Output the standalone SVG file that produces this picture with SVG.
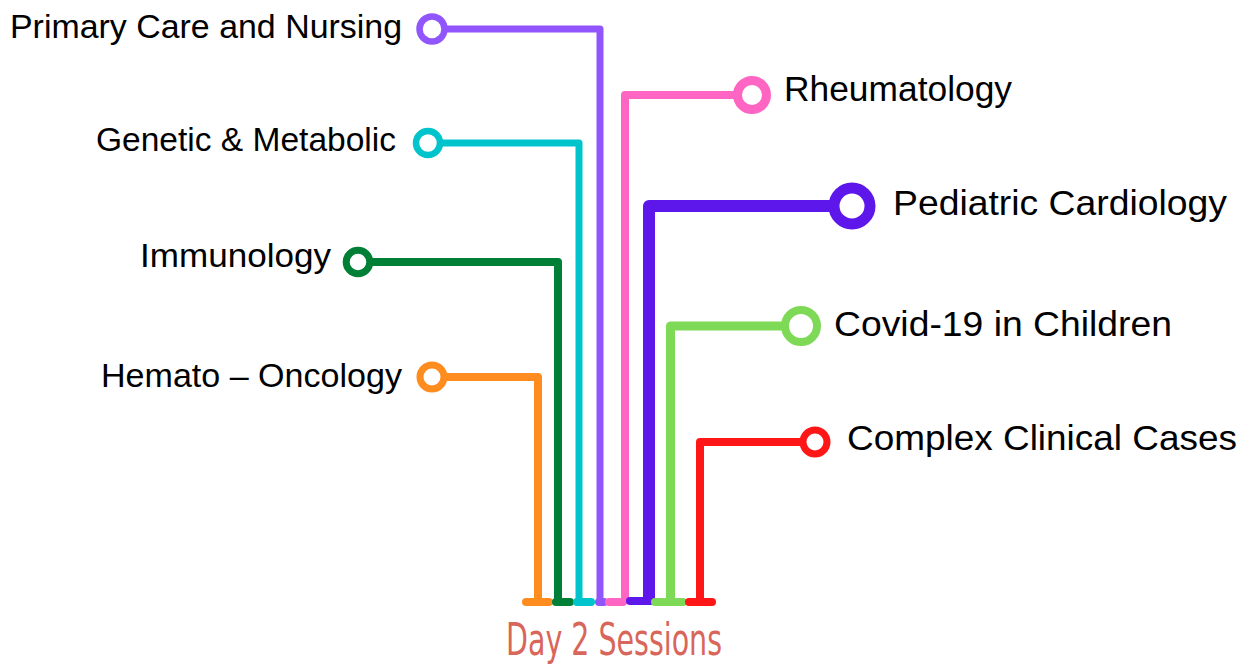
<svg xmlns="http://www.w3.org/2000/svg" width="1250" height="666" viewBox="0 0 1250 666">
<style>
.lbl{font-family:"Liberation Sans",Arial,sans-serif;fill:#000;}
.ln{fill:none;stroke-linecap:butt;stroke-linejoin:round;}
.ring{fill:#fff;}
.bar{fill:none;stroke-linecap:round;stroke-width:8;}
.title{font-family:"Liberation Sans Narrow","DejaVu Sans Condensed","DejaVu Sans",sans-serif;font-stretch:condensed;fill:#D8665A;}
</style>
<rect width="1250" height="666" fill="#fff"/>
<g id="connectors">
<path class="ln" d="M445,29 H600 V602" stroke="#9155FD" stroke-width="7"/>
<path class="ln" d="M440,143 H579 V602" stroke="#00C4CC" stroke-width="7"/>
<path class="ln" d="M370,262 H558 V602" stroke="#008037" stroke-width="8"/>
<path class="ln" d="M444,377 H538 V602" stroke="#FF8C1F" stroke-width="8"/>
<path class="ln" d="M738,95 H625 V602" stroke="#FF66C4" stroke-width="8"/>
<path class="ln" d="M834,206 H649 V602" stroke="#5E17EB" stroke-width="12"/>
<path class="ln" d="M785,326 H670.5 V602" stroke="#7ED957" stroke-width="9"/>
<path class="ln" d="M803,442 H700 V602" stroke="#FF1616" stroke-width="8"/>
<path class="bar" d="M526,602 H549" stroke="#FF8C1F"/>
<path class="bar" d="M556,602 H570" stroke="#008037"/>
<path class="bar" d="M577,602 H591" stroke="#00C4CC"/>
<path class="bar" d="M599,602 H604" stroke="#9155FD"/>
<path class="bar" d="M609,602 H623" stroke="#FF66C4"/>
<path class="bar" d="M630,601 H651" stroke="#5E17EB" stroke-width="10"/>
<path class="bar" d="M655,602 H683" stroke="#7ED957"/>
<path class="bar" d="M689,602 H712" stroke="#FF1616"/>
</g>
<g id="primary-care">
<circle class="ring" cx="432" cy="29" r="12.5" stroke="#9155FD" stroke-width="6.5"/>
<text class="lbl" x="10" y="38" font-size="34" textLength="392" lengthAdjust="spacingAndGlyphs">Primary Care and Nursing</text>
</g>
<g id="genetic-metabolic">
<circle class="ring" cx="428" cy="143" r="12" stroke="#00C4CC" stroke-width="6.5"/>
<text class="lbl" x="96" y="151" font-size="34" textLength="300" lengthAdjust="spacingAndGlyphs">Genetic &amp; Metabolic</text>
</g>
<g id="immunology">
<circle class="ring" cx="358" cy="262" r="11.8" stroke="#008037" stroke-width="7"/>
<text class="lbl" x="140" y="267" font-size="34" textLength="191" lengthAdjust="spacingAndGlyphs">Immunology</text>
</g>
<g id="hemato-oncology">
<circle class="ring" cx="432" cy="377" r="12" stroke="#FF8C1F" stroke-width="7"/>
<text class="lbl" x="101" y="387" font-size="34" textLength="301" lengthAdjust="spacingAndGlyphs">Hemato – Oncology</text>
</g>
<g id="rheumatology">
<circle class="ring" cx="752" cy="95" r="14.5" stroke="#FF66C4" stroke-width="9"/>
<text class="lbl" x="784" y="101" font-size="35" textLength="228" lengthAdjust="spacingAndGlyphs">Rheumatology</text>
</g>
<g id="pediatric-cardiology">
<circle class="ring" cx="852" cy="206" r="18" stroke="#5E17EB" stroke-width="11"/>
<text class="lbl" x="893" y="215" font-size="35" textLength="334" lengthAdjust="spacingAndGlyphs">Pediatric Cardiology</text>
</g>
<g id="covid-19">
<circle class="ring" cx="801" cy="326" r="16" stroke="#7ED957" stroke-width="8"/>
<text class="lbl" x="834" y="336" font-size="35" textLength="338" lengthAdjust="spacingAndGlyphs">Covid-19 in Children</text>
</g>
<g id="complex-cases">
<circle class="ring" cx="815" cy="442" r="12" stroke="#FF1616" stroke-width="7"/>
<text class="lbl" x="847" y="450" font-size="35" textLength="390" lengthAdjust="spacingAndGlyphs">Complex Clinical Cases</text>
</g>
<g id="title">
<text class="title" x="506" y="655" font-size="45" textLength="216" lengthAdjust="spacingAndGlyphs">Day 2 Sessions</text>
</g>
</svg>
